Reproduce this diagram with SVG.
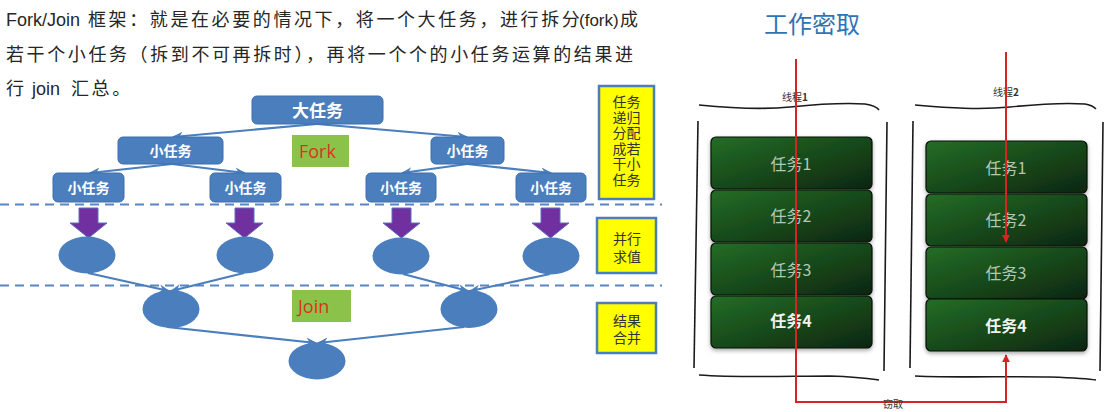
<svg xmlns="http://www.w3.org/2000/svg" width="1110" height="412" viewBox="0 0 1110 412">
<defs>
<style>
.intro{font-family:"Liberation Sans","Noto Sans CJK SC",sans-serif;font-size:18px;fill:#262626}
.cj{font-family:"Noto Sans CJK SC",sans-serif;font-size:18px;letter-spacing:2.6px}
.bx{fill:#4a7ebd;stroke:#3d6fae;stroke-width:1}
.bt{font-family:"Noto Sans CJK SC",sans-serif;font-weight:bold;fill:#fff;text-anchor:middle}
.el{fill:#4a7ebd}
.ln{stroke:#4a7ebd;stroke-width:2.2;fill:none;marker-end:url(#ah)}
.dash{stroke:#5b84c2;stroke-width:2;stroke-dasharray:9 6}
.pa{fill:#7030a0;stroke:#5a6fc0;stroke-width:1}
.yl{fill:#ffff00;stroke:#4a7ebd;stroke-width:2.5}
.yt{font-family:"Liberation Sans","Noto Sans CJK SC",sans-serif;font-size:14px;fill:#333;text-anchor:middle}
.gb{fill:#8bc34a}
.gt{font-family:"Open Sans","Liberation Sans",sans-serif;font-size:18px;fill:#e0301e}
.tk{fill:url(#gg);stroke:#0a0f0a;stroke-width:1.2;filter:url(#sh)}
.tt{font-family:"Noto Sans CJK SC",sans-serif;font-size:16px;fill:#b5c7b3;text-anchor:middle}
.tb{font-family:"Noto Sans CJK SC",sans-serif;font-size:16px;font-weight:bold;fill:#f2f2f2;text-anchor:middle}
.cur{stroke:#1a1a1a;stroke-width:1.6;fill:none}
.red{stroke:#d42424;stroke-width:2;fill:none}
.sm{font-family:"Noto Sans CJK SC",sans-serif;font-size:10px;fill:#333;text-anchor:middle}
</style>
<marker id="ah" viewBox="0 0 10 10" refX="9" refY="5" markerWidth="5" markerHeight="5" orient="auto"><path d="M0,1 L10,5 L0,9 L3,5 z" fill="#4a7ebd"/></marker>
<marker id="ra" viewBox="0 0 10 10" refX="9" refY="5" markerWidth="4" markerHeight="4" orient="auto"><path d="M0,0 L10,5 L0,10 z" fill="#d42424"/></marker>
<linearGradient id="gg" x1="0" y1="0" x2="1" y2="1"><stop offset="0" stop-color="#246d27"/><stop offset="0.5" stop-color="#184a1b"/><stop offset="1" stop-color="#0d2510"/></linearGradient>
<filter id="sh" x="-10%" y="-10%" width="120%" height="130%"><feDropShadow dx="0" dy="2" stdDeviation="2" flood-color="#000" flood-opacity="0.35"/></filter>
</defs>
<rect width="1110" height="412" fill="#fff"/>

<g id="intro">
<text class="intro" x="6" y="26">Fork/Join <tspan class="cj" x="88" letter-spacing="2">框架：就是在必要的情况下，将一个大任务，进行拆分</tspan><tspan x="579" font-size="17">(fork)</tspan><tspan class="cj" x="620" letter-spacing="0">成</tspan></text>
<text class="intro" y="61"><tspan class="cj" x="6">若干个小任务（拆到不可再拆时），再将一个个的小任务运算的结果进</tspan></text>
<text class="intro" y="95"><tspan class="cj" x="6">行</tspan><tspan x="32">join</tspan><tspan class="cj" x="71">汇总。</tspan></text>
</g>

<g id="dividers">
<line class="dash" x1="0" y1="204.5" x2="662" y2="204.5"/>
<line class="dash" x1="0" y1="285.5" x2="662" y2="285.5"/>
</g>

<g id="connectors">
<line class="ln" x1="317" y1="124" x2="173" y2="137"/>
<line class="ln" x1="317" y1="124" x2="467" y2="137"/>
<line class="ln" x1="172" y1="164" x2="90" y2="173"/>
<line class="ln" x1="172" y1="164" x2="245" y2="173"/>
<line class="ln" x1="467" y1="164" x2="402" y2="173"/>
<line class="ln" x1="467" y1="164" x2="551" y2="173"/>
<line class="ln" x1="88" y1="273" x2="169" y2="291"/>
<line class="ln" x1="244" y1="273" x2="171" y2="291"/>
<line class="ln" x1="403" y1="274" x2="468" y2="291"/>
<line class="ln" x1="550" y1="274" x2="470" y2="291"/>
<line class="ln" x1="167" y1="327" x2="316" y2="343"/>
<line class="ln" x1="464" y1="327" x2="318" y2="343"/>
</g>

<g id="big-task"><rect class="bx" x="252" y="96" width="131" height="28" rx="5"/><text class="bt" x="317.5" y="116.5" font-size="17">大任务</text></g>
<g id="sub-l"><rect class="bx" x="118" y="137" width="105" height="27" rx="5"/><text class="bt" x="170.5" y="156" font-size="14">小任务</text></g>
<g id="sub-r"><rect class="bx" x="431" y="137" width="73" height="27" rx="5"/><text class="bt" x="467.5" y="156" font-size="14">小任务</text></g>
<g id="leaf1"><rect class="bx" x="53" y="173" width="71" height="29" rx="5"/><text class="bt" x="88.5" y="193" font-size="14">小任务</text></g>
<g id="leaf2"><rect class="bx" x="210" y="173" width="71" height="29" rx="5"/><text class="bt" x="245.5" y="193" font-size="14">小任务</text></g>
<g id="leaf3"><rect class="bx" x="366" y="173" width="70" height="29" rx="5"/><text class="bt" x="401" y="193" font-size="14">小任务</text></g>
<g id="leaf4"><rect class="bx" x="516" y="173" width="70" height="29" rx="5"/><text class="bt" x="551" y="193" font-size="14">小任务</text></g>

<g id="fork"><rect class="gb" x="292" y="135" width="57" height="32"/><text class="gt" x="299" y="158">Fork</text></g>
<g id="join"><rect class="gb" x="292" y="290" width="59" height="32"/><text class="gt" x="298" y="313">Join</text></g>

<g id="arrows">
<path class="pa" d="M79,208 H98 V223 H107 L88.5,238 L70,223 H79 Z"/>
<path class="pa" d="M235,208 H254 V223 H263 L244.5,238 L226,223 H235 Z"/>
<path class="pa" d="M392,208 H411 V223 H420 L401.5,238 L383,223 H392 Z"/>
<path class="pa" d="M541,208 H560 V223 H569 L550.5,238 L532,223 H541 Z"/>
</g>

<g id="e1"><ellipse class="el" cx="87" cy="255" rx="28.5" ry="18.5"/></g>
<g id="e2"><ellipse class="el" cx="245" cy="255" rx="28.5" ry="18.5"/></g>
<g id="e3"><ellipse class="el" cx="401" cy="256" rx="28.5" ry="18.5"/></g>
<g id="e4"><ellipse class="el" cx="551" cy="256" rx="28.5" ry="18.5"/></g>
<g id="e5"><ellipse class="el" cx="171" cy="309" rx="28.5" ry="19"/></g>
<g id="e6"><ellipse class="el" cx="469" cy="309" rx="28.5" ry="19"/></g>
<g id="e7"><ellipse class="el" cx="317" cy="361" rx="28.5" ry="18.5"/></g>

<g id="note1"><rect class="yl" x="599" y="86" width="55" height="113"/>
<text class="yt" x="626.5" y="107">任务</text><text class="yt" x="626.5" y="122.5">递归</text><text class="yt" x="626.5" y="138">分配</text><text class="yt" x="626.5" y="153.5">成若</text><text class="yt" x="626.5" y="169">干小</text><text class="yt" x="626.5" y="185">任务</text></g>
<g id="note2"><rect class="yl" x="597" y="218" width="59" height="55"/>
<text class="yt" x="627" y="243.5" font-size="15">并行</text><text class="yt" x="627" y="261.5" font-size="15">求值</text></g>
<g id="note3"><rect class="yl" x="597" y="303" width="59" height="50"/>
<text class="yt" x="627" y="325.5" font-size="15">结果</text><text class="yt" x="627" y="342.5" font-size="15">合并</text></g>

<g id="title"><text x="812" y="33" font-family="Noto Sans CJK SC, sans-serif" font-size="24" fill="#2e74b5" text-anchor="middle">工作密取</text></g>

<g id="thread1">
<path class="cur" d="M699,105 C730,108 760,110 790,107 C820,104 850,103 865,104 C872,105 877,107 879,110"/>
<path class="cur" d="M698,121 C697,180 695,260 694,368"/>
<path class="cur" d="M887,122 C886,200 885,290 884,371"/>
<path class="cur" d="M699,375 C740,378 790,376 830,376 C860,377 872,379 879,380"/>
<text class="sm" x="795" y="101">线程<tspan font-weight="bold">1</tspan></text>
<rect class="tk" x="711" y="137" width="161" height="52" rx="5"/>
<rect class="tk" x="711" y="190" width="161" height="52" rx="5"/>
<rect class="tk" x="711" y="243" width="161" height="52" rx="5"/>
<rect class="tk" x="711" y="296" width="161" height="52" rx="5"/>
<text class="tt" x="791" y="170">任务1</text>
<text class="tt" x="791" y="222">任务2</text>
<text class="tt" x="791" y="276">任务3</text>
<text class="tb" x="791" y="327">任务4</text>
</g>

<g id="thread2">
<path class="cur" d="M915,105 C950,108 980,110 1010,107 C1040,104 1070,103 1085,104 C1092,105 1094,107 1096,109"/>
<path class="cur" d="M913,121 C912,180 911,260 910,368"/>
<path class="cur" d="M1103,122 C1102,200 1101,290 1100,371"/>
<path class="cur" d="M915,376 C960,378 1010,376 1050,377 C1075,378 1090,379 1096,380"/>
<text class="sm" x="1006" y="96">线程<tspan font-weight="bold">2</tspan></text>
<rect class="tk" x="926" y="141" width="161" height="52" rx="5"/>
<rect class="tk" x="926" y="194" width="161" height="52" rx="5"/>
<rect class="tk" x="926" y="247" width="161" height="52" rx="5"/>
<rect class="tk" x="926" y="299" width="161" height="52" rx="5"/>
<text class="tt" x="1006" y="174">任务1</text>
<text class="tt" x="1006" y="226">任务2</text>
<text class="tt" x="1006" y="279">任务3</text>
<text class="tb" x="1006" y="332">任务4</text>
</g>

<g id="steal">
<path class="red" d="M796,59 V402 H1006 V355" marker-end="url(#ra)"/>
<path class="red" d="M1006,52 V242" marker-end="url(#ra)"/>
<text class="sm" x="893" y="408">窃取</text>
</g>
</svg>
